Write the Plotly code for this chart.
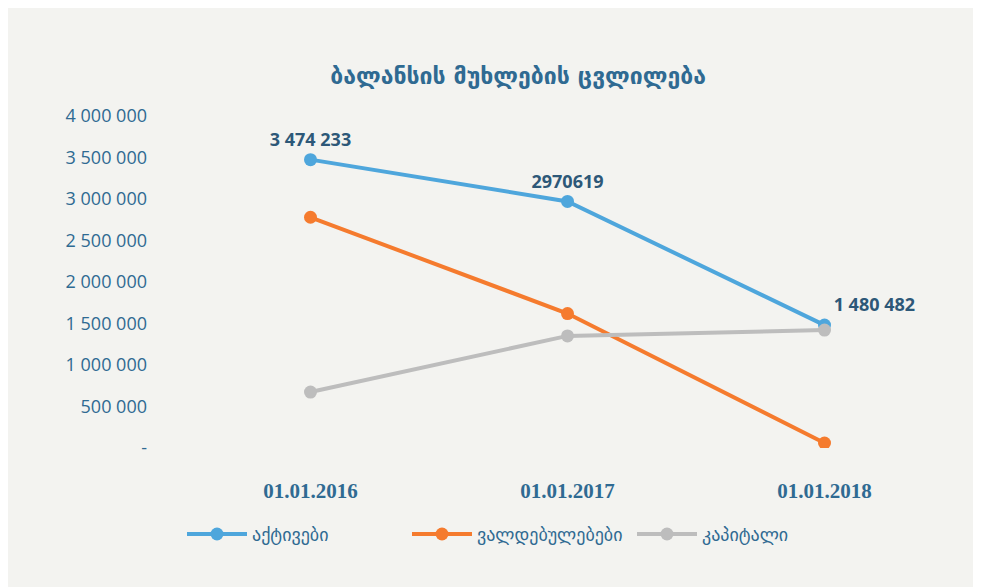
import plotly.graph_objects as go

categories = ["01.01.2016", "01.01.2017", "01.01.2018"]
assets = [3474233, 2970619, 1480482]
liabilities = [2780000, 1620000, 60000]
capital = [674233, 1350619, 1420482]
asset_labels = ["3 474 233", "2970619", "1 480 482"]
ytick_vals = [0, 500000, 1000000, 1500000, 2000000, 2500000, 3000000, 3500000, 4000000]
ytick_text = ["-", "500 000", "1 000 000", "1 500 000", "2 000 000", "2 500 000",
              "3 000 000", "3 500 000", "4 000 000"]

title = "ბალანსის მუხლების ცვლილება"
names = ["აქტივები", "ვალდებულებები", "კაპიტალი"]

txt_color = "#2f6a92"
fig = go.Figure()
fig.add_trace(go.Scatter(
    x=categories, y=assets, name=names[0], mode="lines+markers+text",
    line=dict(color="#4ea6dc", width=4), marker=dict(size=13, color="#4ea6dc"),
    text=asset_labels, textposition=["top center", "top center", "top right"],
    textfont=dict(family="Open Sans", size=18, color="#2d5878", weight="bold"),
))
fig.add_trace(go.Scatter(
    x=categories, y=liabilities, name=names[1], mode="lines+markers",
    line=dict(color="#f57b2e", width=4), marker=dict(size=13, color="#f57b2e"),
))
fig.add_trace(go.Scatter(
    x=categories, y=capital, name=names[2], mode="lines+markers",
    line=dict(color="#bdbdbd", width=4), marker=dict(size=13, color="#bdbdbd"),
))

fig.update_layout(
    width=981, height=587,
    paper_bgcolor="#f3f3f0", plot_bgcolor="#f3f3f0",
    margin=dict(l=174, r=36, t=108, b=147),
    title=dict(text=title, x=0.52, xanchor="center", y=0.885, yanchor="middle",
               font=dict(family="DejaVu Sans", size=23, color=txt_color, weight="bold")),
    showlegend=True,
    legend=dict(orientation="h", x=0.0, xanchor="left", y=-0.26, yanchor="middle",
                font=dict(family="DejaVu Sans", size=18, color=txt_color),
                itemwidth=60, entrywidth=150, bgcolor="rgba(0,0,0,0)", tracegroupgap=0),
    xaxis=dict(type="category", range=[-0.5, 2.5], showgrid=False, zeroline=False,
               showline=False, ticks="", ticklabelstandoff=28,
               tickfont=dict(family="Liberation Serif", size=21, color=txt_color, weight="bold")),
    yaxis=dict(range=[0, 4000000], showgrid=False, zeroline=False, showline=False,
               tickvals=ytick_vals, ticktext=ytick_text, ticks="", ticklabelstandoff=34,
               tickfont=dict(family="Open Sans", size=18, color=txt_color)),
)

fig.write_html("out.html")
